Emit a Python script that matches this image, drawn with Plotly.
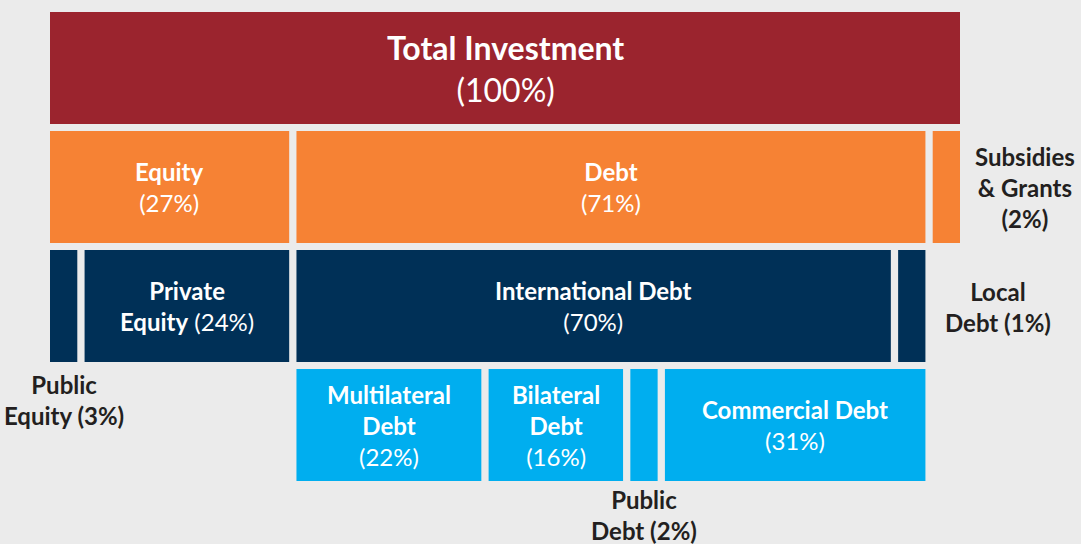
import plotly.graph_objects as go

# ---------------- data ----------------
total_label = "Total Investment"
total_value = 100

level1_labels = ["Equity", "Debt", "Subsidies & Grants"]
level1_values = [27, 71, 2]

equity_labels = ["Public Equity", "Private Equity"]
equity_values = [3, 24]

debt_labels = ["International Debt", "Local Debt"]
debt_values = [70, 1]

intl_labels = ["Multilateral Debt", "Bilateral Debt", "Public Debt", "Commercial Debt"]
intl_values = [22, 16, 2, 31]

# label text templates (line breaks as in the reference)
inside_text = {
    "Total Investment": "<b>Total Investment</b><br>({v}%)",
    "Equity": "<b>Equity</b><br>({v}%)",
    "Debt": "<b>Debt</b><br>({v}%)",
    "Private Equity": "<b>Private</b><br><b>Equity</b> ({v}%)",
    "International Debt": "<b>International Debt</b><br>({v}%)",
    "Multilateral Debt": "<b>Multilateral</b><br><b>Debt</b><br>({v}%)",
    "Bilateral Debt": "<b>Bilateral</b><br><b>Debt</b><br>({v}%)",
    "Commercial Debt": "<b>Commercial Debt</b><br>({v}%)",
}
outside_text = {
    "Subsidies & Grants": "<b>Subsidies</b><br><b>&amp; Grants</b><br><b>({v}%)</b>",
    "Local Debt": "<b>Local</b><br><b>Debt ({v}%)</b>",
    "Public Equity": "<b>Public</b><br><b>Equity ({v}%)</b>",
    "Public Debt": "<b>Public</b><br><b>Debt ({v}%)</b>",
}

# ---------------- styling ----------------
BG = "#ebebeb"
RED = "#9b242e"
ORANGE = "#f68234"
NAVY = "#003057"
BLUE = "#00aeef"
DARK = "#231f20"
FONT = "Lato"
GAP = 0.8
MINW = 3.0
BAR_W = 0.94
LABEL_SIZE = 24
TITLE_SIZE = 32


def split(start, span, values):
    n = len(values)
    avail = span - GAP * (n - 1)
    tot = sum(values)
    widths = [v / tot * avail for v in values]
    small = [w < MINW for w in widths]
    if any(small):
        fixed = MINW * sum(small)
        rest = sum(v for v, s in zip(values, small) if not s)
        widths = [MINW if s else v / rest * (avail - fixed) for v, s in zip(values, small)]
    starts = []
    x = start
    for w in widths:
        starts.append(x)
        x += w + GAP
    return starts, widths


# compute layout
rows = []  # (row index, labels, values, starts, widths, color)
rows.append((0, [total_label], [total_value], [0.0], [float(total_value)], RED))
s1, w1 = split(0.0, float(total_value), level1_values)
rows.append((1, level1_labels, level1_values, s1, w1, ORANGE))
s2a, w2a = split(s1[0], w1[0], equity_values)
s2b, w2b = split(s1[1], w1[1], debt_values)
rows.append((2, equity_labels + debt_labels, equity_values + debt_values,
             s2a + s2b, w2a + w2b, NAVY))
s3, w3 = split(s1[1], w1[1], intl_values)
rows.append((3, intl_labels, intl_values, s3, w3, BLUE))

fig = go.Figure()
annotations = []
for r, labels, values, starts, widths, color in rows:
    fig.add_trace(go.Bar(
        orientation="h",
        y=[r] * len(labels),
        x=widths,
        base=starts,
        width=BAR_W,
        marker=dict(color=color, line=dict(width=0)),
        hoverinfo="skip",
        showlegend=False,
    ))
    for lab, v, s, w in zip(labels, values, starts, widths):
        if lab in inside_text:
            size = TITLE_SIZE if r == 0 else LABEL_SIZE
            annotations.append(dict(
                x=s + w / 2, y=r, xref="x", yref="y",
                text=inside_text[lab].format(v=v), showarrow=False,
                font=dict(family=FONT, size=size, color="white"),
                xanchor="center", yanchor="middle", align="center",
            ))
        else:
            if lab == "Subsidies & Grants":
                x, y = s + w + 7.1, r
            elif lab == "Local Debt":
                x, y = s + w + 8.0, r + 0.01
            elif lab == "Public Debt":
                x, y = s + w / 2, r + 0.755
            else:  # labels placed below their bars
                x, y = s + w / 2, r + 0.79
            annotations.append(dict(
                x=x, y=y, xref="x", yref="y",
                text=outside_text[lab].format(v=v), showarrow=False,
                font=dict(family=FONT, size=LABEL_SIZE, color=DARK),
                xanchor="center", yanchor="middle", align="center",
            ))

px_per_unit = 9.1
fig.update_layout(
    width=1081, height=544,
    margin=dict(l=0, r=0, t=0, b=0),
    paper_bgcolor=BG, plot_bgcolor=BG,
    barmode="overlay",
    xaxis=dict(range=[-50 / px_per_unit, 1031 / px_per_unit], visible=False, fixedrange=True),
    yaxis=dict(range=[4.0, -0.5714], visible=False, fixedrange=True),
    annotations=annotations,
    showlegend=False,
)

fig.write_html(
    "out.html",
    config={"displayModeBar": False},
    post_script="document.body.style.margin='0';document.body.style.padding='0';"
                "document.body.style.background='#ebebeb';",
)
